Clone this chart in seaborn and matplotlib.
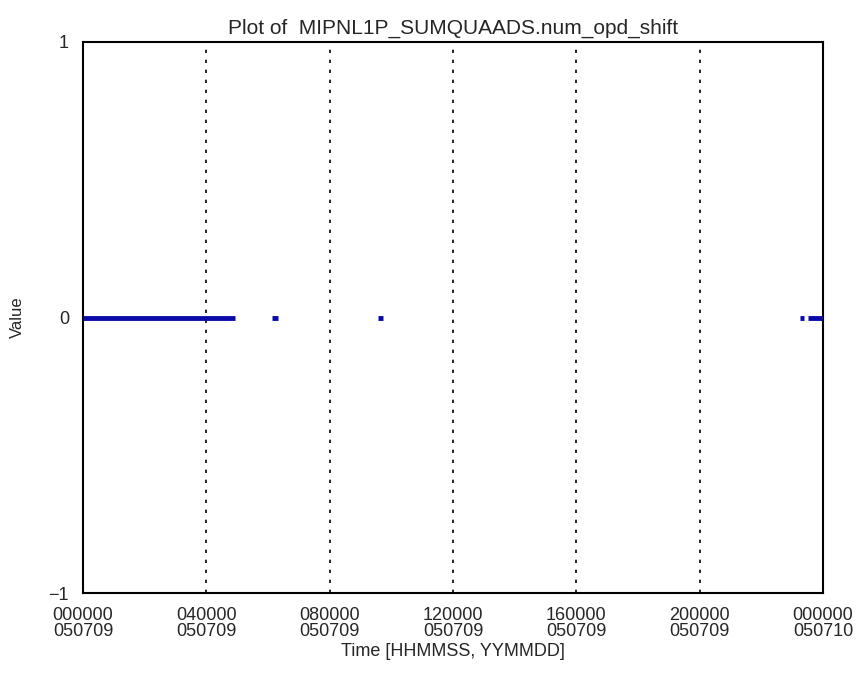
#Plot of MIPNL1P_SUMQUAADS.num_opd_shift over one day

import pandas as pd
import matplotlib
matplotlib.use("Agg")
import matplotlib.pyplot as plt
import seaborn as sns

# data - time in hours since 000000 050709, value of num_opd_shift
seg_start = [0.0, 6.14, 9.58, 23.27, 23.50]
seg_end = [4.93, 6.34, 9.74, 23.40, 24.0]
seg_value = [0, 0, 0, 0, 0]

tick_hours = [0, 4, 8, 12, 16, 20, 24]
tick_labels = ["000000\n050709", "040000\n050709", "080000\n050709", "120000\n050709",
               "160000\n050709", "200000\n050709", "000000\n050710"]
grid_hours = [4, 8, 12, 16, 20]

# long format table, one unit per segment so gaps stay empty
rows = []
for i in range(len(seg_start)):
    rows.append({"time": seg_start[i], "value": seg_value[i], "seg": i})
    rows.append({"time": seg_end[i], "value": seg_value[i], "seg": i})
df = pd.DataFrame(rows)

sns.set_style("white")
plt.rcParams['font.family'] = ['Liberation Sans', 'DejaVu Sans']

fig = plt.figure(figsize=(8.67, 6.81), dpi=100)
ax = fig.add_axes([83/867, 1-593/681, 740/867, 551/681])

for h in grid_hours:
    ax.axvline(h, color="black", linestyle=(0, (2, 4)), linewidth=1.2, zorder=1)

sns.lineplot(data=df, x="time", y="value", units="seg", estimator=None,
             color="#0a0aa8", linewidth=3.5, ax=ax, zorder=3, solid_capstyle="butt")

ax.set_xlim(0, 24)
ax.set_ylim(-1, 1)
ax.set_xticks(tick_hours)
ax.set_xticklabels(tick_labels, fontsize=13, linespacing=0.95)
ax.set_yticks([-1, 0, 1])
ax.set_yticklabels(["\u22121", "0", "1"], fontsize=13)
ax.tick_params(length=0, pad=10)
ax.tick_params(axis="x", pad=10)

for s in ax.spines.values():
    s.set_color("black")
    s.set_linewidth(1.5)

ax.set_xlabel("Time [HHMMSS, YYMMDD]", fontsize=13, labelpad=2)
ax.set_ylabel("Value", fontsize=12)
ax.yaxis.set_label_coords(-0.078, 0.5)
ax.set_title("Plot of  MIPNL1P_SUMQUAADS.num_opd_shift", fontsize=15, pad=6)

plt.savefig("out.png", dpi=100)
